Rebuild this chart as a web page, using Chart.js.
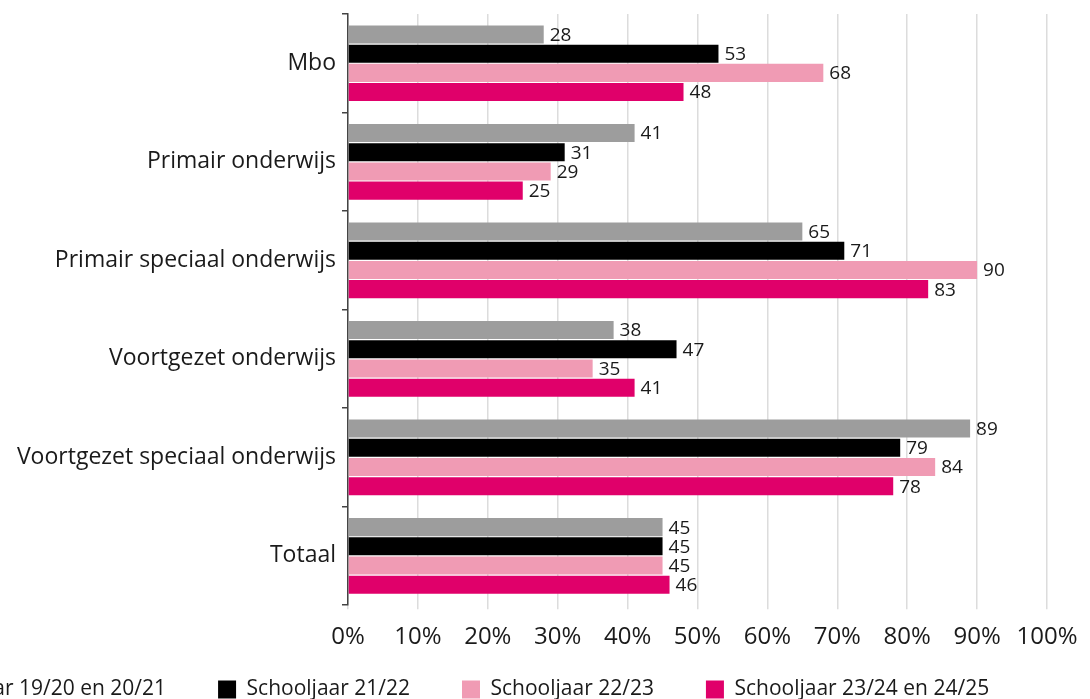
<!DOCTYPE html>
<html>
<head>
<meta charset="utf-8">
<script src="https://cdn.jsdelivr.net/npm/chart.js@4.4.1/dist/chart.umd.min.js"></script>
<style>
  html, body { margin: 0; padding: 0; background: #fff; overflow: hidden; }
  #wrap { position: absolute; left: -188px; top: 0; width: 1300px; height: 749px; }
</style>
</head>
<body>
<div id="wrap"><canvas id="chart" width="1300" height="749"></canvas></div>
<script>
const categories = ["Mbo", "Primair onderwijs", "Primair speciaal onderwijs", "Voortgezet onderwijs", "Voortgezet speciaal onderwijs", "Totaal"];
const seriesNames = ["Schooljaar 19/20 en 20/21", "Schooljaar 21/22", "Schooljaar 22/23", "Schooljaar 23/24 en 24/25"];
const jaar1920 = [28, 41, 65, 38, 89, 45];
const jaar2122 = [53, 31, 71, 47, 79, 45];
const jaar2223 = [68, 29, 90, 35, 84, 45];
const jaar2325 = [48, 25, 83, 41, 78, 46];
const xTicks = [0, 10, 20, 30, 40, 50, 60, 70, 80, 90, 100];

const colors = ["#9d9d9d", "#000000", "#f09bb4", "#e0006a"];
const FONT = "'Open Sans', sans-serif";

// value labels at the end of each bar
const valueLabels = {
  id: "valueLabels",
  afterDatasetsDraw(chart) {
    const ctx = chart.ctx;
    ctx.save();
    ctx.font = "19px " + FONT;
    ctx.fillStyle = "#1a1a1a";
    ctx.textAlign = "left";
    ctx.textBaseline = "middle";
    chart.data.datasets.forEach((ds, i) => {
      chart.getDatasetMeta(i).data.forEach((bar, j) => {
        ctx.fillText(ds.data[j], bar.x + 6, bar.y + 1);
      });
    });
    ctx.restore();
  }
};

// pull the legend a bit closer to the axis labels
const legendUp = {
  id: "legendUp",
  afterLayout(chart) {
    chart.legend.top -= 39;
    chart.legend.bottom -= 39;
  }
};

const ctx = document.getElementById("chart");
new Chart(ctx, {
  type: "bar",
  data: {
    labels: categories,
    datasets: [jaar1920, jaar2122, jaar2223, jaar2325].map((d, i) => ({
      label: seriesNames[i],
      data: d,
      backgroundColor: colors[i],
      borderWidth: 0,
      barPercentage: 0.94,
      categoryPercentage: 0.78,
    })),
  },
  options: {
    indexAxis: "y",
    responsive: false,
    animation: false,
    devicePixelRatio: 1,
    layout: {
      padding: { top: 14, right: 65, bottom: 0, left: 13 },
    },
    scales: {
      x: {
        min: 0,
        max: 100,
        afterBuildTicks: (s) => { s.ticks = xTicks.map((v) => ({ value: v })); },
        afterFit: (s) => { s.paddingLeft = 0; s.paddingRight = 0; },
        border: { display: false },
        grid: { color: "#dcdcdc", lineWidth: 1.5, drawTicks: true, tickLength: 4 },
        ticks: {
          padding: 14,
          maxRotation: 0,
          color: "#1a1a1a",
          font: { family: FONT, size: 24 },
          callback: (v) => v + "%",
        },
      },
      y: {
        afterFit: (s) => { s.width = 523; s.paddingTop = 0; s.paddingBottom = 0; },
        border: { display: true, color: "#444", width: 1.5 },
        grid: { offset: true, drawOnChartArea: false, drawTicks: true, tickLength: 6, color: "#444", lineWidth: 1.5 },
        ticks: {
          padding: 6,
          color: "#1a1a1a",
          font: { family: FONT, size: 23 },
        },
      },
    },
    plugins: {
      legend: {
        position: "bottom",
        labels: {
          boxWidth: 18,
          boxHeight: 18,
          padding: 52,
          color: "#1a1a1a",
          font: { family: FONT, size: 21 },
        },
      },
      tooltip: { enabled: false },
    },
  },
  plugins: [valueLabels, legendUp],
});
</script>
</body>
</html>
